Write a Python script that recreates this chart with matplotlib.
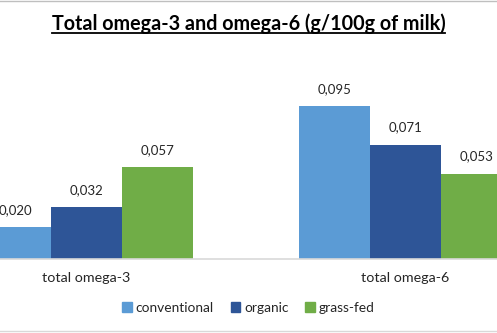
import numpy as np
import matplotlib.pyplot as plt
from matplotlib.lines import Line2D
from matplotlib.patches import Patch

categories = ["total omega-3", "total omega-6"]
series = ["conventional", "organic", "grass-fed"]
conventional = [0.020, 0.095]
organic = [0.032, 0.071]
grass_fed = [0.057, 0.053]
colors = ["#5B9BD5", "#2E5597", "#70AD47"]

plt.rcParams["font.family"] = ["Lato", "DejaVu Sans"]

fig = plt.figure(figsize=(4.97, 3.33), dpi=100)
ax = fig.add_axes([0, 0.2222, 1, 0.5802])

x = np.arange(len(categories))
w = 0.2226
for i, (vals, c) in enumerate(zip([conventional, organic, grass_fed], colors)):
    bars = ax.bar(x + (i - 1) * w, vals, w, color=c, label=series[i])
    for b, v in zip(bars, vals):
        ax.annotate(f"{v:.3f}".replace(".", ","),
                    (b.get_x() + b.get_width() / 2, v),
                    xytext=(0, 8), textcoords="offset points",
                    ha="center", va="bottom", fontsize=9.5, color="#262626")

ax.set_xlim(-0.271, 1.287)
ax.set_ylim(0, 0.12)
ax.set_yticks([])
ax.set_xticks(x)
ax.set_xticklabels(categories, fontsize=10.3, color="#262626")
ax.tick_params(axis="x", length=0, pad=9)
for s in ["top", "left", "right"]:
    ax.spines[s].set_visible(False)
ax.spines["bottom"].set_color("#D9D9D9")
ax.spines["bottom"].set_linewidth(1.2)

handles = [Patch(color=c) for c in colors]
fig.legend(handles, series, loc="center", bbox_to_anchor=(0.5, 0.075),
           ncol=3, frameon=False, fontsize=9.9, handlelength=0.7,
           handleheight=0.7, handletextpad=0.3, columnspacing=1.2,
           labelcolor="#262626")

t = fig.text(0.5, 0.928, "Total omega-3 and omega-6 (g/100g of milk)",
             ha="center", va="center", fontsize=14.2, fontweight="bold",
             color="black")
fig.canvas.draw()
bb = t.get_window_extent().transformed(fig.transFigure.inverted())
fig.add_artist(Line2D([bb.x0, bb.x1], [bb.y0 + 0.004, bb.y0 + 0.004],
                      color="black", lw=1.3, transform=fig.transFigure))

# thin frame lines at top and bottom
fig.add_artist(Line2D([0, 1], [0.997, 0.997], color="#BFBFBF", lw=1,
                      transform=fig.transFigure))
fig.add_artist(Line2D([0, 1], [0.006, 0.006], color="#D9D9D9", lw=1,
                      transform=fig.transFigure))

fig.savefig("out.png", dpi=100)
